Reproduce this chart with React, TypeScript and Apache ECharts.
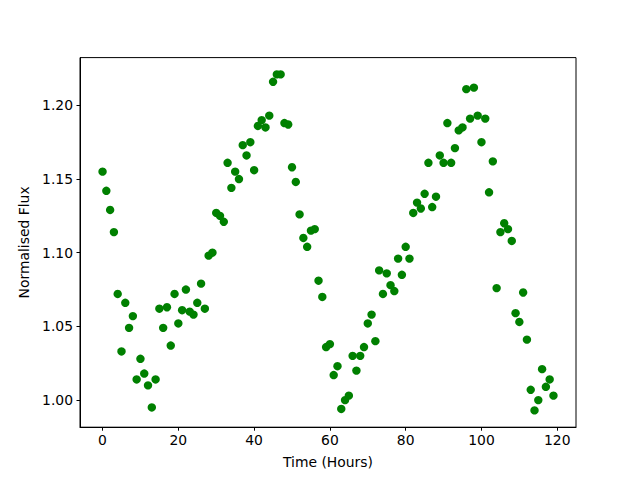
import React, { useEffect, useRef } from "react";
import * as echarts from "echarts";

const hours: number[] = [
  0, 1, 2, 3, 4, 5, 6, 7, 8, 9, 10, 11, 12, 13, 14, 15, 16, 17, 18, 19,
  20, 21, 22, 23, 24, 25, 26, 27, 28, 29, 30, 31, 32, 33, 34, 35, 36, 37, 38, 39,
  40, 41, 42, 43, 44, 45, 46, 47, 48, 49, 50, 51, 52, 53, 54, 55, 56, 57, 58, 59,
  60, 61, 62, 63, 64, 65, 66, 67, 68, 69, 70, 71, 72, 73, 74, 75, 76, 77, 78, 79,
  80, 81, 82, 83, 84, 85, 86, 87, 88, 89, 90, 91, 92, 93, 94, 95, 96, 97, 98, 99,
  100, 101, 102, 103, 104, 105, 106, 107, 108, 109, 110, 111, 112, 113, 114, 115, 116, 117, 118, 119,
];

const flux: number[] = [
  1.155, 1.142, 1.129, 1.114, 1.072, 1.033, 1.066, 1.049, 1.057, 1.014,
  1.028, 1.018, 1.010, 0.995, 1.014, 1.062, 1.049, 1.063, 1.037, 1.072,
  1.052, 1.061, 1.075, 1.060, 1.058, 1.066, 1.079, 1.062, 1.098, 1.100,
  1.127, 1.125, 1.121, 1.161, 1.144, 1.155, 1.150, 1.173, 1.166, 1.175,
  1.156, 1.186, 1.190, 1.185, 1.193, 1.216, 1.221, 1.221, 1.188, 1.187,
  1.158, 1.148, 1.126, 1.110, 1.104, 1.115, 1.116, 1.081, 1.070, 1.036,
  1.038, 1.017, 1.023, 0.994, 1.000, 1.003, 1.030, 1.020, 1.030, 1.036,
  1.052, 1.058, 1.040, 1.088, 1.072, 1.086, 1.078, 1.074, 1.096, 1.085,
  1.104, 1.096, 1.127, 1.134, 1.130, 1.140, 1.161, 1.131, 1.138, 1.166,
  1.161, 1.188, 1.161, 1.171, 1.183, 1.185, 1.211, 1.191, 1.212, 1.193,
  1.175, 1.191, 1.141, 1.162, 1.076, 1.114, 1.120, 1.116, 1.108, 1.059,
  1.053, 1.073, 1.041, 1.007, 0.993, 1.000, 1.021, 1.009, 1.014, 1.003,
];

const xTicks: number[] = [0, 20, 40, 60, 80, 100, 120];
const yTicks: number[] = [1.0, 1.05, 1.1, 1.15, 1.2];

const xLabel = "Time (Hours)";
const yLabel = "Normalised Flux";

const FONT = "DejaVu Sans";
const FS = 13.9;

export default function App() {
  const ref = useRef<HTMLDivElement>(null);

  useEffect(() => {
    if (!ref.current) return;
    const chart = echarts.init(ref.current, undefined, { renderer: "svg" });

    const xMinD = Math.min(...hours);
    const xMaxD = Math.max(...hours);
    const yMinD = Math.min(...flux);
    const yMaxD = Math.max(...flux);
    const xPad = (xMaxD - xMinD) * 0.05;
    const yPad = (yMaxD - yMinD) * 0.05;

    chart.setOption({
      animation: false,
      backgroundColor: "#ffffff",
      grid: {
        left: 80,
        right: 64,
        top: 57.6,
        bottom: 52.8,
        show: true,
        borderColor: "#000000",
        borderWidth: 1,
        backgroundColor: "transparent",
      },
      xAxis: {
        type: "value",
        min: xMinD - xPad,
        max: xMaxD + xPad,
        name: xLabel,
        nameLocation: "middle",
        nameGap: 28,
        nameTextStyle: { color: "#000", fontFamily: FONT, fontSize: FS },
        axisLine: { show: true, onZero: false, lineStyle: { color: "#000", width: 1 } },
        axisTick: {
          show: true,
          length: 3.5,
          lineStyle: { color: "#000", width: 1 },
          customValues: xTicks,
        },
        axisLabel: {
          color: "#000",
          fontFamily: FONT,
          fontSize: FS,
          margin: 6,
          customValues: xTicks,
          formatter: (v: number) => String(Math.round(v)),
        },
        splitLine: { show: false },
      },
      yAxis: {
        type: "value",
        min: yMinD - yPad,
        max: yMaxD + yPad,
        name: yLabel,
        nameLocation: "middle",
        nameGap: 47,
        nameTextStyle: { color: "#000", fontFamily: FONT, fontSize: FS },
        axisLine: { show: true, onZero: false, lineStyle: { color: "#000", width: 1 } },
        axisTick: {
          show: true,
          length: 3.5,
          lineStyle: { color: "#000", width: 1 },
          customValues: yTicks,
        },
        axisLabel: {
          color: "#000",
          fontFamily: FONT,
          fontSize: FS,
          margin: 7,
          customValues: yTicks,
          formatter: (v: number) => v.toFixed(2),
        },
        splitLine: { show: false },
      },
      series: [
        {
          type: "scatter",
          data: hours.map((h, i) => [h, flux[i]]),
          symbol: "circle",
          symbolSize: 8.4,
          itemStyle: { color: "#008000", opacity: 1 },
          emphasis: { disabled: true },
        },
      ],
    });

    return () => {
      chart.dispose();
    };
  }, []);

  return (
    <div
      ref={ref}
      style={{ position: "fixed", left: 0, top: 0, width: 640, height: 480 }}
    />
  );
}
